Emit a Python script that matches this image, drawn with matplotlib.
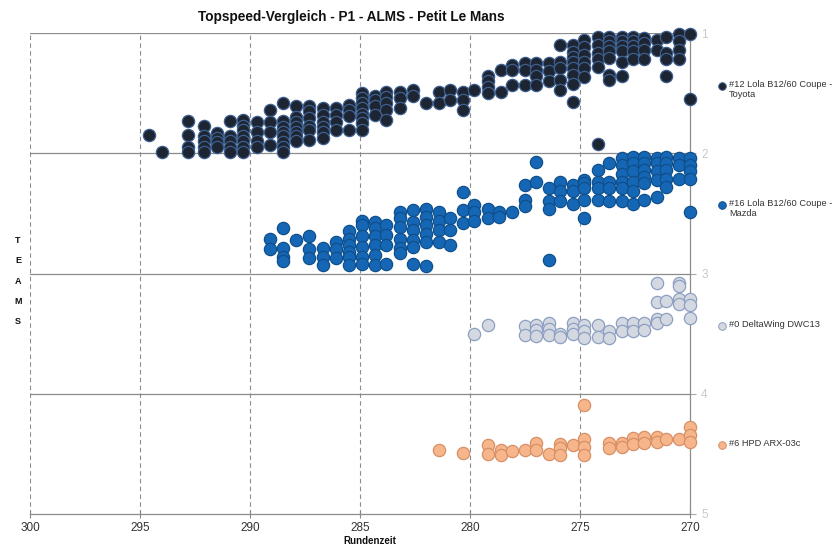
import matplotlib
matplotlib.use("Agg")
import matplotlib.pyplot as plt
from matplotlib import font_manager

# ---------------- data ----------------
teams = ["#12 Lola B12/60 Coupe -\nToyota", "#16 Lola B12/60 Coupe -\nMazda",
         "#0 DeltaWing DWC13", "#6 HPD ARX-03c"]
colors = ["#1e2532", "#1567b5", "#d3d8e1", "#f6b58a"]
edges = ["#3d5f8f", "#0f4f8c", "#8d9fc2", "#d89066"]

t12_laps = [294.6, 294.0, 292.8, 292.1, 291.5, 290.9, 290.3, 289.7, 289.1, 288.5, 287.9,
            287.3, 286.7, 286.1, 285.5, 284.9, 284.3, 283.8, 283.2, 282.6, 282.0, 281.4,
            280.9, 280.3, 279.8, 279.2, 278.6, 278.1, 277.5, 277.0, 276.4, 275.9, 275.3,
            274.8, 274.2, 273.7, 273.1, 272.6, 272.1, 271.5, 271.1, 270.5, 270.0]
t12_pos = [[1.85], [1.99], [1.73, 1.85, 1.95, 1.99], [1.77, 1.86, 1.90, 1.95, 1.99],
           [1.83, 1.87, 1.91, 1.95], [1.73, 1.86, 1.90, 1.95, 1.99],
           [1.72, 1.77, 1.81, 1.86, 1.90, 1.95, 1.99], [1.74, 1.82, 1.90, 1.95],
           [1.64, 1.74, 1.82, 1.93], [1.58, 1.73, 1.78, 1.82, 1.86, 1.91, 1.95, 1.99],
           [1.61, 1.70, 1.74, 1.78, 1.82, 1.86, 1.90], [1.61, 1.65, 1.71, 1.77, 1.81, 1.89],
           [1.62, 1.68, 1.74, 1.78, 1.82, 1.87], [1.62, 1.68, 1.74, 1.81],
           [1.60, 1.64, 1.69, 1.81], [1.50, 1.54, 1.58, 1.62, 1.67, 1.71, 1.75, 1.81],
           [1.52, 1.56, 1.61, 1.68], [1.49, 1.53, 1.58, 1.64, 1.72], [1.49, 1.54, 1.62],
           [1.47, 1.52], [1.58], [1.49, 1.58], [1.47, 1.56], [1.49, 1.56, 1.64], [1.47],
           [1.36, 1.40, 1.45, 1.50], [1.31, 1.49], [1.27, 1.31, 1.43], [1.25, 1.31, 1.43],
           [1.25, 1.31, 1.36, 1.43], [1.25, 1.32, 1.40], [1.10, 1.24, 1.29, 1.39, 1.47],
           [1.10, 1.16, 1.20, 1.24, 1.29, 1.35, 1.42, 1.57], [1.06, 1.12, 1.18, 1.24, 1.29, 1.37],
           [1.03, 1.10, 1.17, 1.22, 1.28, 1.92], [1.03, 1.07, 1.11, 1.15, 1.21, 1.35, 1.39],
           [1.03, 1.07, 1.11, 1.15, 1.24, 1.36], [1.03, 1.07, 1.11, 1.15, 1.22],
           [1.04, 1.08, 1.14, 1.22], [1.06, 1.14], [1.03, 1.17, 1.22, 1.36],
           [1.01, 1.07, 1.14, 1.22], [1.01, 1.55]]

t16_laps = [289.1, 288.5, 287.9, 287.3, 286.7, 286.1, 285.5, 284.9, 284.3, 283.8, 283.2,
            282.6, 282.0, 281.4, 280.9, 280.3, 279.8, 279.2, 278.7, 278.1, 277.5, 277.0,
            276.4, 275.9, 275.3, 274.8, 274.2, 273.7, 273.1, 272.6, 272.1, 271.5, 271.1,
            270.5, 270.0]
t16_pos = [[2.71, 2.80], [2.62, 2.79, 2.86, 2.90], [2.72], [2.69, 2.80, 2.87],
           [2.79, 2.86, 2.93], [2.74, 2.80, 2.87], [2.65, 2.71, 2.76, 2.82, 2.86, 2.93],
           [2.56, 2.60, 2.69, 2.78, 2.86, 2.92], [2.57, 2.62, 2.69, 2.76, 2.85, 2.93],
           [2.60, 2.68, 2.76, 2.92], [2.49, 2.54, 2.61, 2.71, 2.79, 2.83],
           [2.47, 2.57, 2.64, 2.72, 2.78, 2.92], [2.46, 2.53, 2.60, 2.67, 2.74, 2.94],
           [2.49, 2.56, 2.64, 2.74], [2.54, 2.64, 2.76], [2.32, 2.47, 2.58],
           [2.43, 2.49, 2.56], [2.46, 2.54], [2.49, 2.53], [2.49], [2.26, 2.39, 2.44],
           [2.07, 2.24], [2.29, 2.40, 2.46, 2.89], [2.24, 2.31, 2.40], [2.26, 2.31, 2.42],
           [2.22, 2.25, 2.29, 2.39, 2.54], [2.14, 2.24, 2.29, 2.39], [2.08, 2.24, 2.29, 2.40],
           [2.04, 2.10, 2.17, 2.24, 2.29, 2.40], [2.03, 2.08, 2.15, 2.24, 2.31, 2.42],
           [2.03, 2.08, 2.14, 2.20, 2.25, 2.39], [2.04, 2.08, 2.15, 2.22, 2.36],
           [2.03, 2.08, 2.14, 2.21, 2.28], [2.04, 2.10, 2.21], [2.04, 2.10, 2.15, 2.21, 2.49]]

t0_laps = [279.8, 279.2, 277.5, 277.0, 276.4, 275.9, 275.3, 274.8, 274.2, 273.7, 273.1,
           272.6, 272.1, 271.5, 271.1, 270.5, 270.0]
t0_pos = [[3.50], [3.43], [3.44, 3.51], [3.43, 3.47, 3.52], [3.41, 3.46, 3.51], [3.50, 3.53],
          [3.41, 3.46, 3.50], [3.43, 3.48, 3.54], [3.43, 3.53], [3.48, 3.54], [3.41, 3.48],
          [3.41, 3.48], [3.41, 3.47], [3.08, 3.24, 3.38, 3.41], [3.23, 3.38],
          [3.08, 3.10, 3.21, 3.25], [3.21, 3.26, 3.37]]

t6_laps = [281.4, 280.3, 279.2, 278.6, 278.1, 277.5, 277.0, 276.4, 275.9, 275.3, 274.8,
           273.7, 273.1, 272.6, 272.1, 271.5, 271.1, 270.5, 270.0]
t6_pos = [[4.47], [4.49], [4.43, 4.50], [4.47, 4.51], [4.48], [4.47], [4.41, 4.47], [4.50],
          [4.42, 4.45, 4.51], [4.43], [4.09, 4.38, 4.44, 4.51], [4.41, 4.45], [4.41, 4.44],
          [4.37, 4.42], [4.36, 4.41], [4.36, 4.40], [4.38], [4.38], [4.28, 4.34, 4.40]]

x_ticks = [300, 295, 290, 285, 280, 275, 270]
y_ticks = [1, 2, 3, 4, 5]
title = "Topspeed-Vergleich - P1 - ALMS - Petit Le Mans"
x_label = "Rundenzeit"
y_label = "TEAMS"

# ---------------- fonts ----------------
names = {f.name for f in font_manager.fontManager.ttflist}
narrow = "Liberation Sans Narrow" if "Liberation Sans Narrow" in names else "Liberation Sans"
plt.rcParams["font.family"] = ["Liberation Sans", "DejaVu Sans"]

W, H = 838, 549
fig = plt.figure(figsize=(W / 100, H / 100), dpi=100)
ax = fig.add_axes([30 / W, 1 - 514 / H, 660 / W, 481 / H])

series = [(t12_laps, t12_pos), (t16_laps, t16_pos), (t0_laps, t0_pos), (t6_laps, t6_pos)]
for i, (laps, pos) in enumerate(series):
    xs, ys = [], []
    for lap, col in zip(laps, pos):
        for p in col:
            xs.append(lap)
            ys.append(p)
    ax.scatter(xs, ys, s=78, c=colors[i], edgecolors=edges[i], linewidths=0.9,
               zorder=3, clip_on=False)

ax.set_xlim(300, 270)
ax.set_ylim(5, 1)
ax.set_xticks(x_ticks)
ax.set_xticklabels([str(v) for v in x_ticks], fontfamily=narrow, fontsize=8.5, color="#333333")
ax.set_yticks(y_ticks)
ax.yaxis.tick_right()
ax.set_yticklabels([str(v) for v in y_ticks], fontsize=8.5, color="#c8c8c8")
ax.tick_params(axis="x", direction="inout", length=6, width=0.8, color="#888888", pad=3)
ax.tick_params(axis="y", direction="out", length=4, width=0.8, color="#aaaaaa", pad=4)

# grid
for yv in [1, 2, 3, 4]:
    ax.axhline(yv, color="#8c8c8c", lw=0.9, zorder=1)
for xv in [300, 295, 290, 285, 280, 275]:
    ax.axvline(xv, color="#8c8c8c", lw=0.8, ls=(0, (4, 3)), zorder=1)

for side in ["top", "left"]:
    ax.spines[side].set_visible(False)
ax.spines["bottom"].set_color("#8c8c8c")
ax.spines["right"].set_color("#8c8c8c")
ax.spines["bottom"].set_linewidth(0.9)
ax.spines["right"].set_linewidth(0.9)

fig.text(351 / W, 1 - 17 / H, title, ha="center", va="center", fontsize=9.8,
         fontweight="bold", color="#111111")
fig.text(370 / W, 1 - 541 / H, x_label, ha="center", va="center", fontsize=7,
         fontweight="bold", color="#111111")
fig.text(18 / W, 1 - 281 / H, "\n".join(y_label), ha="center", va="center", fontsize=6.5,
         fontweight="bold", color="#111111", linespacing=2.6)

# legend
lax = fig.add_axes([716 / W, 1 - 514 / H, 120 / W, 481 / H])
lax.set_xlim(0, 120)
lax.set_ylim(5, 1)
lax.axis("off")
leg_y = [1.44, 2.43, 3.44, 4.43]
for i, name in enumerate(teams):
    lax.scatter([6], [leg_y[i]], s=30, c=colors[i], edgecolors=edges[i], linewidths=0.7,
                clip_on=False)
    lax.text(13, leg_y[i] - 0.05, name, ha="left", va="top", fontsize=6.7,
             fontfamily=narrow, color="#333333", linespacing=1.15)

fig.savefig("out.png", dpi=100)
